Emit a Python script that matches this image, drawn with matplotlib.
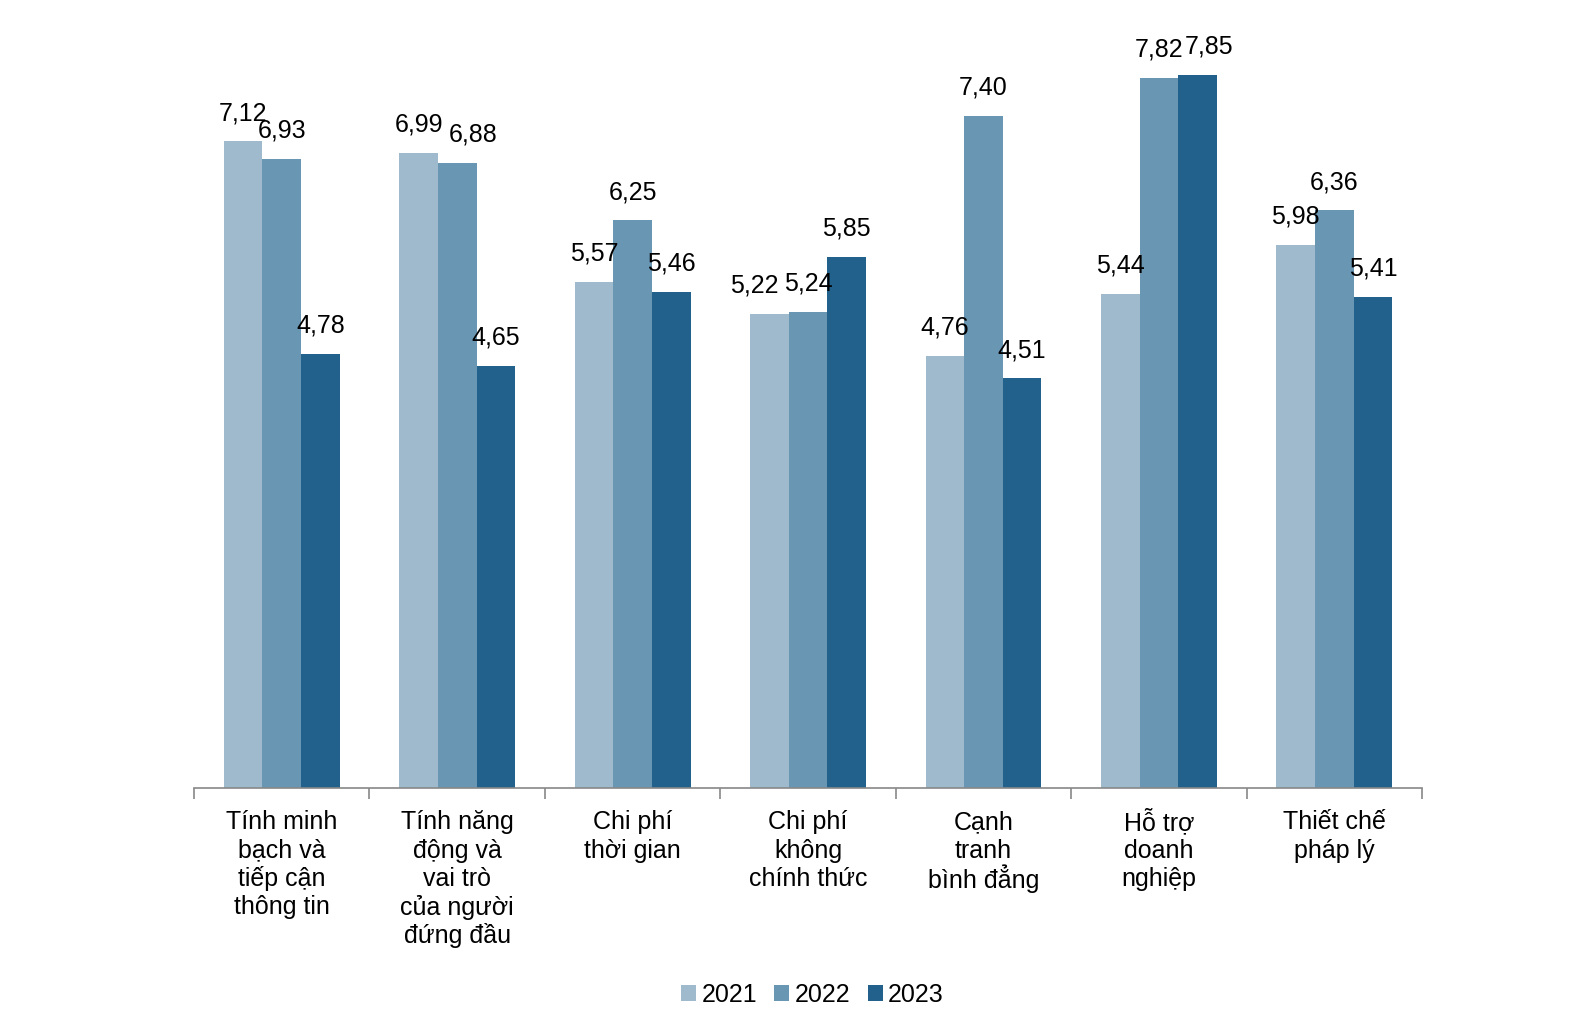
import matplotlib
matplotlib.use("Agg")
import matplotlib.pyplot as plt
import numpy as np

plt.rcParams['font.family'] = ['Liberation Sans', 'DejaVu Sans']

categories = [
    "Tính minh\nbạch và\ntiếp cận\nthông tin",
    "Tính năng\nđộng và\nvai trò\ncủa người\nđứng đầu",
    "Chi phí\nthời gian",
    "Chi phí\nkhông\nchính thức",
    "Cạnh\ntranh\nbình đẳng",
    "Hỗ trợ\ndoanh\nnghiệp",
    "Thiết chế\npháp lý",
]
years = ["2021", "2022", "2023"]
v2021 = [7.12, 6.99, 5.57, 5.22, 4.76, 5.44, 5.98]
v2022 = [6.93, 6.88, 6.25, 5.24, 7.40, 7.82, 6.36]
v2023 = [4.78, 4.65, 5.46, 5.85, 4.51, 7.85, 5.41]
colors = ["#9FB9CD", "#6996B3", "#22618C"]

# horizontal nudges (points) of value labels to avoid collisions, like the original
nudge = {(0, 3): -10.8, (1, 1): 11.5, (2, 5): 8.6}

FS = 18
fig = plt.figure(figsize=(15.96, 10.23), dpi=100)
ax = fig.add_axes([0.1216, 0.2297, 0.7694, 0.7545])

x = np.arange(len(categories))
w = 0.22
series = [v2021, v2022, v2023]
for i, (vals, c, y) in enumerate(zip(series, colors, years)):
    pos = x + (i - 1) * w
    ax.bar(pos, vals, width=w, color=c, label=y, linewidth=0)
    for j, (px, v) in enumerate(zip(pos, vals)):
        dx = nudge.get((i, j), 0)
        ax.annotate(f"{v:.2f}".replace(".", ","), (px, v), xytext=(dx, 20.5),
                    textcoords="offset points", ha="center", va="center",
                    fontsize=FS, color="black")

ax.set_xlim(-0.5, len(categories) - 0.5)
ax.set_ylim(0, 8.5)
for s in ["top", "right", "left"]:
    ax.spines[s].set_visible(False)
ax.spines["bottom"].set_color("#888888")
ax.spines["bottom"].set_linewidth(1.2)
ax.set_yticks([])
ax.set_xticks(np.arange(-0.5, len(categories)))
ax.set_xticklabels([])
ax.tick_params(axis="x", length=8, color="#888888", width=1.2)

# category labels, one text per line for even line spacing
for xc, lab in zip(x, categories):
    for k, line in enumerate(lab.split("\n")):
        ax.annotate(line, (xc, 0), xytext=(0, -22.7 - 20.5 * k),
                    textcoords="offset points", ha="center", va="center_baseline",
                    fontsize=FS, color="black", annotation_clip=False)

fig.legend(loc="center", bbox_to_anchor=(0.509, 1 - 995 / 1023), ncol=3,
           frameon=False, fontsize=FS, handlelength=0.6, handleheight=0.6,
           handletextpad=0.2, columnspacing=0.7)

fig.savefig("out.png", dpi=100, facecolor="white")
